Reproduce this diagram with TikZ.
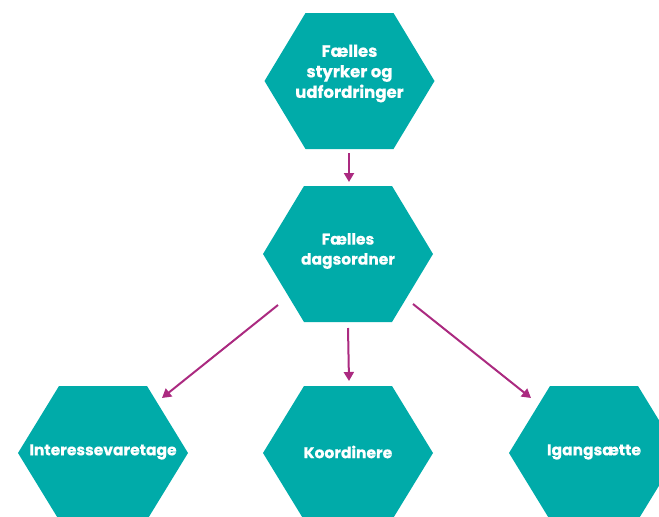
\documentclass[tikz,border=0pt]{standalone}
\usepackage{fontspec}
\setmainfont{Poppins}[BoldFeatures={FakeBold=0.4}]
\usetikzlibrary{arrows.meta}
\definecolor{teal1}{HTML}{00ABA9}
\definecolor{mag1}{HTML}{AB2A80}
\newcommand\myhex[3]{% cx, cy, half-height
  \fill[teal1] (#1-85,#2) -- (#1-44,#2-#3) -- (#1+44,#2-#3) -- (#1+85,#2) -- (#1+44,#2+#3) -- (#1-44,#2+#3) -- cycle;}
\begin{document}
\begin{tikzpicture}[x=1pt,y=-1pt,
  lbl/.style={text=white,font=\bfseries\fontsize{15.5}{20}\selectfont,align=center,inner sep=0pt},
  lbltop/.style={lbl,font=\bfseries\fontsize{16.5}{20.5}\selectfont},
  arr/.style={mag1,line width=2pt,-{Triangle[length=9pt,width=10pt]}}]
\useasboundingbox (0,0) rectangle (659,517);
\myhex{349.5}{81}{68}
\myhex{348}{254}{68}
\myhex{103}{453}{67}
\myhex{348}{453}{67}
\myhex{594}{453}{67}
\node[lbltop] (a) at (349.5,73.5) {Fælles\\styrker og\\udfordringer};
\node[lbl] (b) at (348,251) {Fælles\\dagsordner};
\node[lbl] (c) at (103,452) {Interessevaretage};
\node[lbl] (d) at (348,452) {Koordinere};
\node[lbl] (e) at (594,452) {Igangsætte};
\coordinate (a1) at (349,153);
\coordinate (b0) at (349,182);
\coordinate (b1) at (278,305);
\coordinate (b2) at (348,328);
\coordinate (b3) at (413,304);
\coordinate (c0) at (162,398);
\coordinate (d0) at (349,381);
\coordinate (e0) at (531,398);
\draw[arr] (a1) -- (b0);
\draw[arr] (b1) -- (c0);
\draw[arr] (b2) -- (d0);
\draw[arr] (b3) -- (e0);
\end{tikzpicture}
\end{document}
